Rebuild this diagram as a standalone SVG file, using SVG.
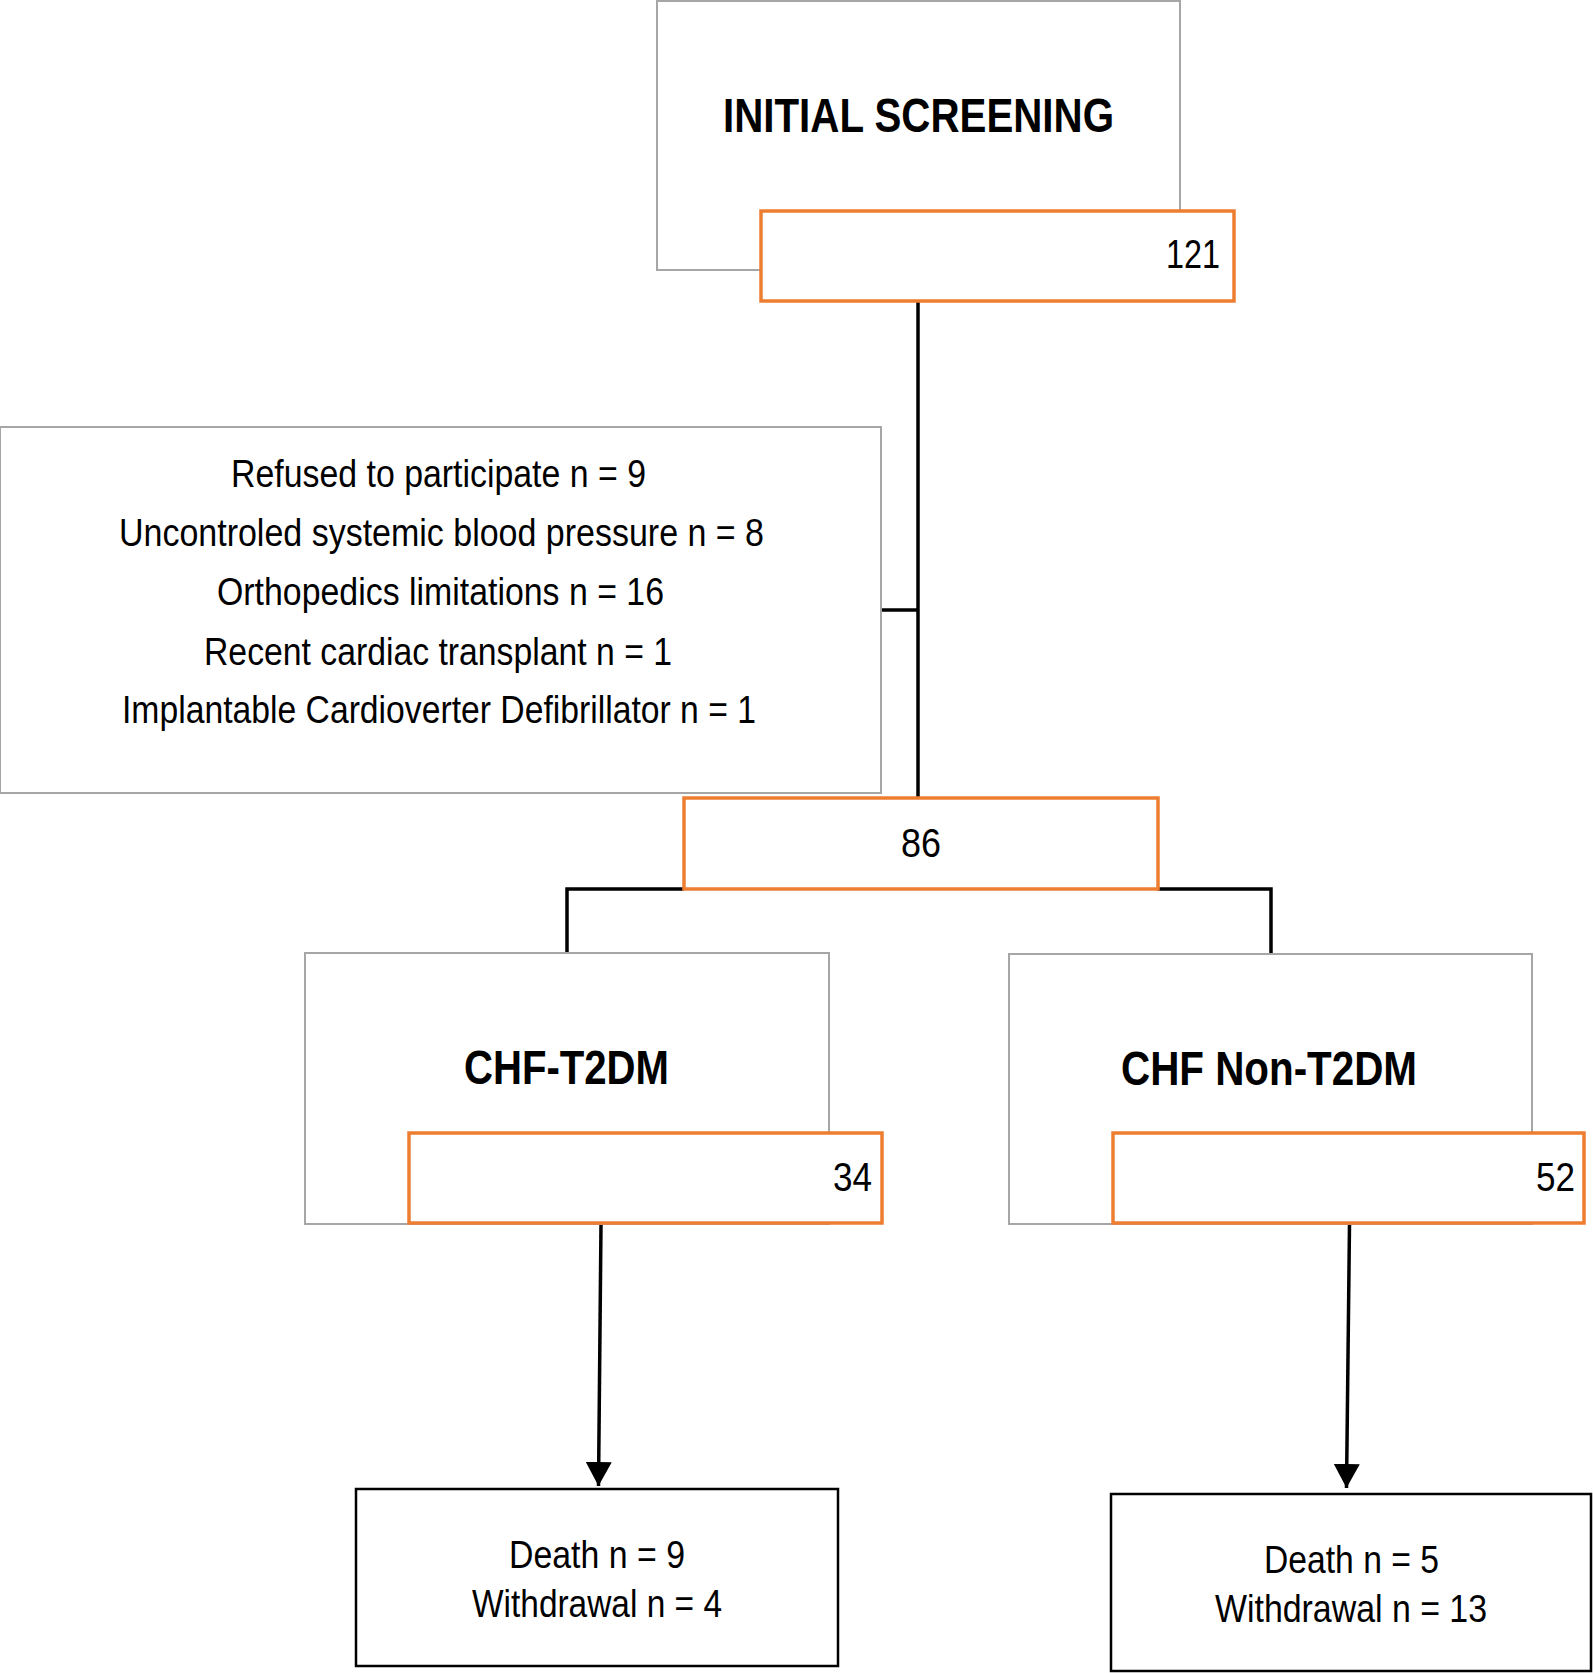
<svg xmlns="http://www.w3.org/2000/svg" width="1593" height="1673" viewBox="0 0 1593 1673">
<style>
.gray{fill:#fff;stroke:#a6a6a6;stroke-width:2}
.org{fill:#fff;stroke:#ed7d31;stroke-width:3.5}
.blk{fill:#fff;stroke:#000;stroke-width:2.5}
.t{font-family:"Liberation Sans Narrow","Liberation Sans",Arial,sans-serif;fill:#000}
.b{font-weight:bold;font-size:49px}
.n{font-size:41px}
.r{font-size:38px}
.c{fill:none;stroke:#000;stroke-width:3.5}
</style>
<defs>
<marker id="ah" markerUnits="userSpaceOnUse" markerWidth="25" markerHeight="26" refX="24" refY="13" orient="auto">
<path d="M0,0 L24,13 L0,26 z" fill="#000"/>
</marker>
</defs>
<g id="connectors">
<path class="c" d="M918 301 V798"/>
<path class="c" d="M881 610 H918"/>
<path class="c" d="M684 889 H567 V953"/>
<path class="c" d="M1157 889 H1271 V953"/>
<path class="c" d="M601 1224 L598.5 1486" marker-end="url(#ah)"/>
<path class="c" d="M1349.5 1224 L1346.5 1488" marker-end="url(#ah)"/>
</g>
<g id="initial-screening">
<rect class="gray" x="657" y="1" width="523" height="269"/>
<text class="t b" x="723" y="132" textLength="391" lengthAdjust="spacingAndGlyphs">INITIAL SCREENING</text>
</g>
<g id="n121">
<rect class="org" x="761" y="211" width="473" height="90"/>
<text class="t n" x="1166" y="268" textLength="54" lengthAdjust="spacingAndGlyphs">121</text>
</g>
<g id="exclusions">
<rect class="gray" x="0" y="427" width="881" height="366"/>
<text class="t r" x="231" y="487" textLength="415" lengthAdjust="spacingAndGlyphs">Refused to participate n = 9</text>
<text class="t r" x="119" y="546" textLength="645" lengthAdjust="spacingAndGlyphs">Uncontroled systemic blood pressure n = 8</text>
<text class="t r" x="217" y="605" textLength="447" lengthAdjust="spacingAndGlyphs">Orthopedics limitations n = 16</text>
<text class="t r" x="204" y="665" textLength="468" lengthAdjust="spacingAndGlyphs">Recent cardiac transplant n = 1</text>
<text class="t r" x="122" y="723" textLength="634" lengthAdjust="spacingAndGlyphs">Implantable Cardioverter Defibrillator n = 1</text>
</g>
<g id="n86">
<rect class="org" x="684" y="798" width="474" height="91"/>
<text class="t n" x="901" y="857" textLength="40" lengthAdjust="spacingAndGlyphs">86</text>
</g>
<g id="chf-t2dm">
<rect class="gray" x="305" y="953" width="524" height="271"/>
<text class="t b" x="464" y="1084" textLength="205" lengthAdjust="spacingAndGlyphs">CHF-T2DM</text>
</g>
<g id="n34">
<rect class="org" x="409" y="1133" width="473" height="90"/>
<text class="t n" x="833" y="1191" textLength="39" lengthAdjust="spacingAndGlyphs">34</text>
</g>
<g id="chf-non-t2dm">
<rect class="gray" x="1009" y="954" width="523" height="270"/>
<text class="t b" x="1121" y="1085" textLength="296" lengthAdjust="spacingAndGlyphs">CHF Non-T2DM</text>
</g>
<g id="n52">
<rect class="org" x="1113" y="1133" width="471" height="90"/>
<text class="t n" x="1536" y="1191" textLength="39" lengthAdjust="spacingAndGlyphs">52</text>
</g>
<g id="outcome-t2dm">
<rect class="blk" x="356" y="1489" width="482" height="177"/>
<text class="t r" x="509" y="1568" textLength="176" lengthAdjust="spacingAndGlyphs">Death n = 9</text>
<text class="t r" x="472" y="1617" textLength="250" lengthAdjust="spacingAndGlyphs">Withdrawal n = 4</text>
</g>
<g id="outcome-non-t2dm">
<rect class="blk" x="1111" y="1494" width="480" height="177"/>
<text class="t r" x="1264" y="1573" textLength="175" lengthAdjust="spacingAndGlyphs">Death n = 5</text>
<text class="t r" x="1215" y="1622" textLength="272" lengthAdjust="spacingAndGlyphs">Withdrawal n = 13</text>
</g>
</svg>
